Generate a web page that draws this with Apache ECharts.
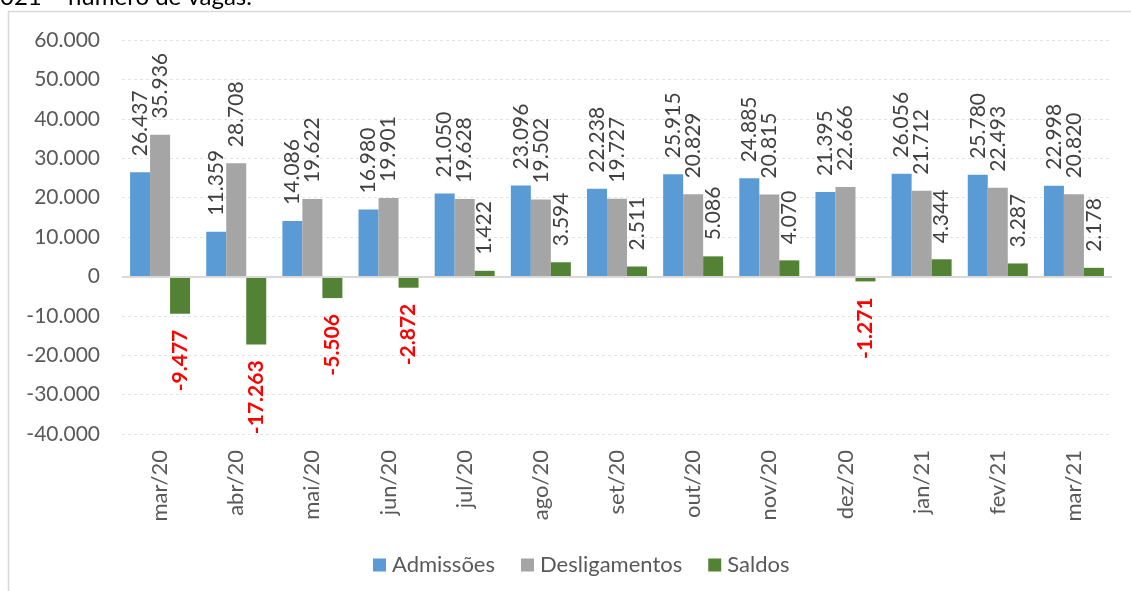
<!DOCTYPE html>
<html>
<head>
<meta charset="utf-8">
<script src="https://cdn.jsdelivr.net/npm/echarts@6/dist/echarts.min.js"></script>
<style>
html,body{margin:0;padding:0;background:#fff;}
#c{width:1131px;height:591px;}
</style>
</head>
<body>
<div id="c"></div>
<script>
const categories = ['mar/20','abr/20','mai/20','jun/20','jul/20','ago/20','set/20','out/20','nov/20','dez/20','jan/21','fev/21','mar/21'];
const admissoes = [26437, 11359, 14086, 16980, 21050, 23096, 22238, 25915, 24885, 21395, 26056, 25780, 22998];
const desligamentos = [35936, 28708, 19622, 19901, 19628, 19502, 19727, 20829, 20815, 22666, 21712, 22493, 20820];
const saldos = [-9477, -17263, -5506, -2872, 1422, 3594, 2511, 5086, 4070, -1271, 4344, 3287, 2178];
const seriesNames = ['Admissões', 'Desligamentos', 'Saldos'];
const yTicks = { min: -40000, max: 60000, interval: 10000 };
const titleText = '021 – número de vagas.';

const FONT = 'Lato, "Open Sans", sans-serif';
function fmt(v) {
  const s = Math.abs(v).toString().replace(/\B(?=(\d{3})+(?!\d))/g, '.');
  return (v < 0 ? '-' : '') + s;
}
const posLabel = {
  show: true, position: 'top', rotate: 90, align: 'left', verticalAlign: 'middle',
  distance: 16, color: '#404040', fontSize: 21, fontFamily: FONT,
  formatter: p => fmt(p.value)
};
const negLabel = {
  show: true, position: 'bottom', rotate: 90, align: 'right', verticalAlign: 'middle',
  distance: 16, color: '#FF0000', fontSize: 21, fontWeight: 'bold', fontFamily: FONT,
  formatter: p => fmt(p.value)
};

const chart = echarts.init(document.getElementById('c'), null, { renderer: 'canvas' });
chart.setOption({
  animation: false,
  backgroundColor: '#fff',
  textStyle: { fontFamily: FONT },
  graphic: [
    { type: 'line', shape: { x1: 8.5, y1: 11, x2: 8.5, y2: 600 }, style: { stroke: '#d9d9d9', lineWidth: 1.5 }, silent: true },
    { type: 'line', shape: { x1: 8, y1: 11.5, x2: 1140, y2: 11.5 }, style: { stroke: '#d9d9d9', lineWidth: 1.5 }, silent: true },
    { type: 'text', left: 0, top: -15, style: { text: titleText, fontSize: 24, fontFamily: FONT, fill: '#000' }, silent: true }
  ],
  legend: {
    left: 368, top: 549, itemWidth: 13, itemHeight: 13, itemGap: 26,
    icon: 'rect',
    textStyle: { fontSize: 22, color: '#595959', fontFamily: FONT, padding: [0, 0, 0, 1] },
    data: seriesNames
  },
  grid: { left: 122, right: 19, top: 40, bottom: 157, containLabel: false },
  xAxis: {
    type: 'category', data: categories,
    axisLine: { show: false, onZero: false },
    axisTick: { show: false },
    axisLabel: { rotate: 90, fontSize: 22, color: '#595959', fontFamily: FONT, margin: 16 }
  },
  yAxis: {
    type: 'value', min: yTicks.min, max: yTicks.max, interval: yTicks.interval,
    axisLine: { show: false }, axisTick: { show: false },
    axisLabel: { fontSize: 21, color: '#595959', fontFamily: FONT, margin: 22, formatter: v => v === 0 ? '0' : fmt(v) },
    splitLine: { lineStyle: { color: '#e3e3e3', type: [3, 3], width: 1 } }
  },
  series: [
    {
      name: seriesNames[0], type: 'bar', data: admissoes, barWidth: 20, barGap: '0%',
      itemStyle: { color: '#5B9BD5' }, label: posLabel,
      markLine: {
        silent: true, symbol: 'none', label: { show: false },
        lineStyle: { color: '#d9d9d9', type: 'solid', width: 2 },
        data: [{ yAxis: 0 }]
      }
    },
    {
      name: seriesNames[1], type: 'bar', data: desligamentos, barWidth: 20, barGap: '0%',
      itemStyle: { color: '#A5A5A5' }, label: posLabel
    },
    {
      name: seriesNames[2], type: 'bar', barWidth: 20, barGap: '0%',
      itemStyle: { color: '#548235' },
      data: saldos.map(v => ({ value: v, label: v < 0 ? negLabel : posLabel }))
    }
  ]
});
</script>
</body>
</html>
